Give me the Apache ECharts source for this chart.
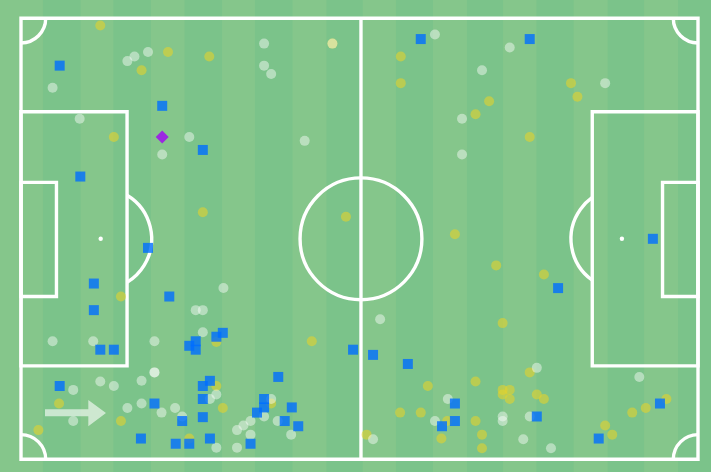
<!DOCTYPE html>
<html>
<head>
<meta charset="utf-8">
<script src="https://cdn.jsdelivr.net/npm/echarts@6.0.0/dist/echarts.min.js"></script>
<style>
html,body{margin:0;padding:0;background:#7bc38a;}
#chart{width:711px;height:472px;}
</style>
</head>
<body>
<div id="chart"></div>
<script>
// Pitch: 105 x 68 metres, y measured from the top touchline
const blueSquares = [
  [6.0,7.3],[21.9,13.5],[28.2,20.3],[9.2,24.4],[19.7,35.4],[11.3,40.9],[23.0,42.9],[11.3,45.0],
  [12.3,51.1],[14.4,51.1],[26.1,50.5],[27.1,49.8],[27.1,51.1],[30.3,49.1],[31.3,48.5],[6.0,56.7],
  [20.7,59.4],[25.0,62.1],[18.6,64.8],[24.0,65.6],[26.1,65.6],[29.3,64.8],[28.2,56.7],[29.3,55.9],
  [28.2,58.7],[28.2,61.5],[39.9,55.3],[37.7,58.7],[37.7,60.0],[36.6,60.8],[42.0,60.0],[40.9,62.1],
  [43.0,62.9],[35.6,65.6],[51.5,51.1],[54.6,51.9],[60.0,53.3],[67.3,59.4],[67.3,62.1],[65.3,62.9],
  [80.0,61.4],[89.6,64.8],[99.1,59.4],[83.3,41.6],[98.0,34.0],[62.0,3.2],[78.9,3.2]
];
const yellowDots = [
  [12.3,1.1],[22.8,5.2],[29.2,5.9],[18.7,8.0],[14.4,18.3],[48.3,3.9],[58.9,5.9],[58.9,10.0],
  [70.5,14.8],[72.6,12.8],[85.3,10.0],[86.3,12.1],[78.9,18.3],[28.2,29.9],[50.4,30.6],[67.3,33.3],
  [15.5,42.9],[73.7,38.1],[81.1,39.5],[74.7,47.0],[45.1,49.8],[30.3,49.9],[30.3,56.7],[31.3,60.1],
  [38.8,59.4],[5.9,59.4],[2.7,63.5],[15.5,62.1],[26.1,64.8],[53.6,64.2],[63.1,56.7],[70.5,56.0],
  [58.8,60.8],[62.0,60.8],[66.1,62.1],[65.2,64.8],[70.5,62.1],[71.5,64.2],[71.5,66.3],[78.9,54.6],
  [74.7,57.3],[75.8,57.3],[74.7,58.0],[75.8,58.7],[80.0,58.0],[81.1,58.7],[100.1,58.7],[96.9,60.1],
  [94.8,60.8],[90.6,62.8],[91.7,64.2]
];
const whiteDots = [
  [4.9,10.7],[9.1,15.5],[17.6,5.9],[16.5,6.6],[19.7,5.2],[26.1,18.3],[21.9,21.0],[37.7,3.9],
  [37.7,7.3],[38.8,8.6],[44.0,18.9],[48.3,3.9],[64.2,2.5],[75.8,4.5],[71.5,8.0],[68.4,15.5],
  [68.4,21.0],[90.6,10.0],[31.4,41.6],[27.1,45.0],[28.2,45.0],[55.7,46.4],[4.9,49.8],[11.2,49.8],
  [20.7,49.8],[28.2,48.4],[20.7,54.6],[20.7,54.6],[18.7,55.9],[12.3,56.0],[14.4,56.7],[8.1,57.3],
  [8.1,62.1],[16.5,60.1],[18.7,59.4],[21.8,60.8],[23.9,60.1],[25.0,61.4],[30.3,58.0],[29.3,58.7],
  [38.8,58.7],[37.7,61.4],[39.8,62.1],[35.6,62.1],[34.5,62.8],[33.5,63.5],[35.6,64.2],[41.9,64.2],
  [30.3,66.2],[33.5,66.2],[54.6,64.9],[66.2,58.7],[64.2,62.1],[80.0,53.9],[74.7,61.4],[74.7,62.1],
  [78.9,61.4],[77.9,64.9],[82.2,66.3],[95.9,55.3]
];
const purpleDiamonds = [[21.9,18.3]];

// decoration: light mowing stripes (x ranges, metres)
const lightStripes = [
  [-3.3,3.41],[9.26,14.33],[20.16,25.37],[31.18,36.29],[42.11,47.38],
  [53.01,58.16],[63.90,69.17],[74.76,79.95],[85.72,90.99],[96.63,101.9]
];
// decoration: direction-of-play arrow polygon
const arrowShape = [[3.72,60.3],[10.44,60.3],[10.44,58.86],[13.18,60.86],[10.44,62.9],[10.44,61.38],[3.72,61.38]];

const LINE = '#ffffff';
const LW = 3.4;
const HALF_X = 52.73;

function strokeStyle(){ return {stroke: LINE, lineWidth: LW, fill: null}; }

function pitchRender(params, api) {
  const c = (x, y) => api.coord([x, y]);
  const rectEl = (x0, y0, x1, y1) => {
    const a = c(x0, y0), b = c(x1, y1);
    return {type: 'rect', shape: {x: a[0], y: a[1], width: b[0]-a[0], height: b[1]-a[1]}, style: strokeStyle()};
  };
  const lineEl = (x0, y0, x1, y1) => {
    const a = c(x0, y0), b = c(x1, y1);
    return {type: 'line', shape: {x1: a[0], y1: a[1], x2: b[0], y2: b[1]}, style: strokeStyle()};
  };
  const children = [];
  children.push(rectEl(0, 0, 105, 68));
  children.push(lineEl(HALF_X, 0, HALF_X, 68));
  children.push(rectEl(0, 14.4, 16.45, 53.6));
  children.push(rectEl(88.6, 14.4, 105, 53.6));
  children.push(rectEl(0, 25.3, 5.5, 42.9));
  children.push(rectEl(99.5, 25.3, 105, 42.9));
  const cc = c(HALF_X, 34);
  children.push({type: 'circle', shape: {cx: cc[0], cy: cc[1], r: api.size([9.45, 0])[0]}, style: strokeStyle()});
  // penalty spots
  const spL = c(12.36, 34), spR = c(93.2, 34);
  children.push({type: 'circle', shape: {cx: spL[0], cy: spL[1], r: 2.2}, style: {fill: LINE}});
  children.push({type: 'circle', shape: {cx: spR[0], cy: spR[1], r: 2.2}, style: {fill: LINE}});
  // penalty arcs
  const rA = api.size([7.9, 0])[0];
  const bL = c(16.45, 34)[0], bR = c(88.6, 34)[0];
  const tL = Math.acos(Math.min(1, (bL - spL[0]) / rA));
  const tR = Math.acos(Math.min(1, (spR[0] - bR) / rA));
  children.push({type: 'arc', shape: {cx: spL[0], cy: spL[1], r: rA, startAngle: -tL, endAngle: tL, clockwise: true}, style: strokeStyle()});
  children.push({type: 'arc', shape: {cx: spR[0], cy: spR[1], r: rA, startAngle: Math.PI - tR, endAngle: Math.PI + tR, clockwise: true}, style: strokeStyle()});
  // corner arcs
  const rc = api.size([3.83, 0])[0];
  const corners = [[0, 0, 0, 0.5], [105, 0, 0.5, 1], [105, 68, 1, 1.5], [0, 68, 1.5, 2]];
  corners.forEach(k => {
    const p = c(k[0], k[1]);
    children.push({type: 'arc', shape: {cx: p[0], cy: p[1], r: rc, startAngle: k[2]*Math.PI, endAngle: k[3]*Math.PI, clockwise: true}, style: strokeStyle()});
  });
  return {type: 'group', children: children};
}

const chart = echarts.init(document.getElementById('chart'), null, {renderer: 'canvas'});
chart.setOption({
  animation: false,
  backgroundColor: '#7bc38a',
  grid: {left: 21, top: 18.3, width: 677, height: 441},
  xAxis: {type: 'value', min: 0, max: 105, show: false},
  yAxis: {type: 'value', min: 0, max: 68, inverse: true, show: false},
  series: [
    {
      type: 'custom', name: 'stripes', silent: true, clip: false, z: 0,
      data: lightStripes,
      renderItem: function (params, api) {
        const a = api.coord([api.value(0), -6]);
        const b = api.coord([api.value(1), 76]);
        return {type: 'rect', shape: {x: a[0], y: a[1], width: b[0]-a[0], height: b[1]-a[1]}, style: {fill: '#85c68b'}};
      }
    },
    {
      type: 'custom', name: 'pitch', silent: true, clip: false, z: 1,
      data: [[52.5, 34]],
      renderItem: pitchRender
    },
    {
      type: 'custom', name: 'arrow', silent: true, clip: false, z: 1,
      data: [[0, 0]],
      renderItem: function (params, api) {
        return {type: 'polygon', shape: {points: arrowShape.map(p => api.coord(p))}, style: {fill: 'rgba(255,255,255,0.6)'}};
      }
    },
    {
      type: 'scatter', name: 'yellow', z: 2, symbol: 'circle', symbolSize: 10,
      data: yellowDots,
      itemStyle: {color: 'rgba(226,210,45,0.75)'}
    },
    {
      type: 'scatter', name: 'white', z: 3, symbol: 'circle', symbolSize: 10,
      data: whiteDots,
      itemStyle: {color: 'rgba(255,255,255,0.55)'}
    },
    {
      type: 'scatter', name: 'blue', z: 4, symbol: 'rect', symbolSize: 10,
      data: blueSquares,
      itemStyle: {color: '#006eff'}
    },
    {
      type: 'scatter', name: 'purple', z: 5, symbol: 'diamond', symbolSize: 13,
      data: purpleDiamonds,
      itemStyle: {color: '#a000f5'}
    }
  ]
});
</script>
</body>
</html>
